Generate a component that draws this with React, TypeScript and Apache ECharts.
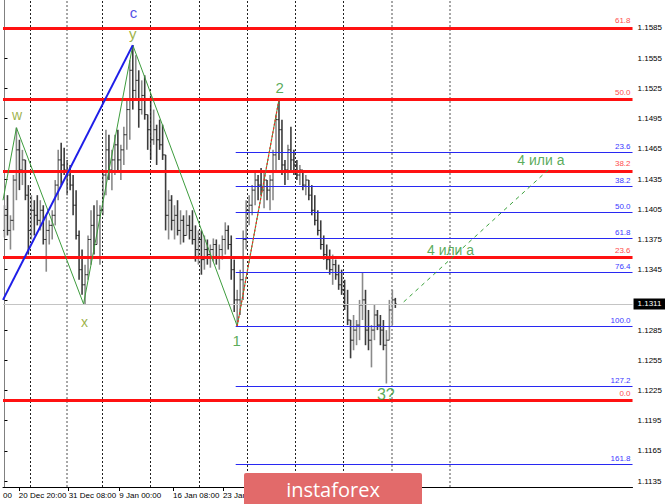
import React, { useEffect, useRef } from "react";
import * as echarts from "echarts";

// OHLC bars (EUR/USD, H4)
const barOpen = [1.1384,1.1399,1.1384,1.1394,1.1434,1.1464,1.1444,1.1454,1.1419,1.1384,1.1404,1.1399,1.1394,1.1404,1.1375,1.1384,1.1389,1.1399,1.1429,1.1454,1.1449,1.1444,1.1439,1.1429,1.1409,1.1379,1.1345,1.1330,1.1340,1.1375,1.1389,1.1370,1.1399,1.1404,1.1439,1.1464,1.1444,1.1454,1.1469,1.1454,1.1464,1.1479,1.1504,1.1543,1.1523,1.1533,1.1504,1.1518,1.1499,1.1484,1.1474,1.1484,1.1474,1.1469,1.1459,1.1399,1.1414,1.1394,1.1399,1.1384,1.1394,1.1379,1.1389,1.1384,1.1375,1.1365,1.1375,1.1355,1.1365,1.1360,1.1365,1.1370,1.1357,1.1365,1.1375,1.1384,1.1370,1.1345,1.1315,1.1315,1.1335,1.1375,1.1404,1.1409,1.1424,1.1434,1.1429,1.1424,1.1434,1.1424,1.1434,1.1459,1.1494,1.1484,1.1449,1.1444,1.1464,1.1454,1.1449,1.1439,1.1444,1.1429,1.1434,1.1419,1.1404,1.1394,1.1384,1.1370,1.1360,1.1355,1.1345,1.1350,1.1340,1.1330,1.1325,1.1310,1.1295,1.1275,1.1285,1.1290,1.1310,1.1315,1.1285,1.1275,1.1285,1.1300,1.1290,1.1285,1.1270,1.1275,1.1305,1.1315];
const barHigh = [1.1409,1.1419,1.1399,1.1439,1.1486,1.1474,1.1464,1.1454,1.1429,1.1419,1.1414,1.1419,1.1414,1.1409,1.1399,1.1394,1.1404,1.1434,1.1464,1.1471,1.1466,1.1454,1.1449,1.1439,1.1424,1.1384,1.1365,1.1350,1.1379,1.1404,1.1409,1.1414,1.1409,1.1444,1.1484,1.1479,1.1464,1.1479,1.1484,1.1469,1.1487,1.1514,1.1553,1.1568,1.1558,1.1543,1.1533,1.1538,1.1499,1.1518,1.1504,1.1489,1.1494,1.1489,1.1459,1.1424,1.1419,1.1409,1.1414,1.1404,1.1399,1.1404,1.1399,1.1404,1.1389,1.1384,1.1384,1.1379,1.1375,1.1370,1.1376,1.1375,1.1370,1.1379,1.1392,1.1389,1.1379,1.1355,1.1325,1.1345,1.1384,1.1414,1.1419,1.1429,1.1444,1.1439,1.1446,1.1442,1.1434,1.1439,1.1464,1.1499,1.1514,1.1494,1.1454,1.1469,1.1487,1.1464,1.1454,1.1449,1.1444,1.1439,1.1434,1.1429,1.1419,1.1404,1.1394,1.1379,1.1370,1.1365,1.1360,1.1355,1.1350,1.1345,1.1335,1.1325,1.1295,1.1300,1.1295,1.1315,1.1342,1.1325,1.1305,1.1290,1.1310,1.1305,1.1300,1.1295,1.1285,1.1315,1.1325,1.1317];
const barLow = [1.1377,1.1379,1.1365,1.1384,1.1414,1.1424,1.1429,1.1414,1.1360,1.1375,1.1379,1.1389,1.1384,1.1370,1.1343,1.1370,1.1375,1.1389,1.1414,1.1429,1.1439,1.1419,1.1424,1.1399,1.1375,1.1335,1.1320,1.1311,1.1335,1.1350,1.1360,1.1370,1.1350,1.1399,1.1419,1.1434,1.1424,1.1439,1.1444,1.1434,1.1449,1.1464,1.1474,1.1504,1.1514,1.1486,1.1499,1.1494,1.1464,1.1454,1.1469,1.1449,1.1464,1.1454,1.1384,1.1375,1.1384,1.1375,1.1379,1.1370,1.1372,1.1379,1.1375,1.1370,1.1353,1.1350,1.1340,1.1345,1.1350,1.1347,1.1353,1.1350,1.1345,1.1355,1.1360,1.1365,1.1335,1.1303,1.1289,1.1300,1.1315,1.1365,1.1389,1.1399,1.1409,1.1414,1.1419,1.1406,1.1414,1.1404,1.1414,1.1444,1.1454,1.1439,1.1429,1.1434,1.1444,1.1439,1.1434,1.1429,1.1424,1.1419,1.1414,1.1399,1.1389,1.1379,1.1365,1.1355,1.1345,1.1340,1.1330,1.1335,1.1325,1.1320,1.1305,1.1290,1.1257,1.1265,1.1270,1.1275,1.1295,1.1270,1.1265,1.1248,1.1275,1.1285,1.1270,1.1265,1.1232,1.1275,1.1290,1.1307];
const barClose = [1.1399,1.1384,1.1394,1.1434,1.1464,1.1444,1.1454,1.1419,1.1384,1.1404,1.1399,1.1394,1.1404,1.1375,1.1384,1.1389,1.1399,1.1429,1.1454,1.1449,1.1444,1.1439,1.1429,1.1409,1.1379,1.1345,1.1330,1.1340,1.1375,1.1389,1.1370,1.1399,1.1404,1.1439,1.1464,1.1444,1.1454,1.1469,1.1454,1.1464,1.1479,1.1504,1.1543,1.1523,1.1533,1.1504,1.1518,1.1499,1.1484,1.1474,1.1484,1.1474,1.1469,1.1459,1.1399,1.1414,1.1394,1.1399,1.1384,1.1394,1.1379,1.1389,1.1384,1.1375,1.1365,1.1375,1.1355,1.1365,1.1360,1.1365,1.1370,1.1357,1.1365,1.1375,1.1384,1.1370,1.1345,1.1315,1.1315,1.1335,1.1375,1.1404,1.1409,1.1424,1.1434,1.1429,1.1424,1.1434,1.1424,1.1434,1.1459,1.1494,1.1484,1.1449,1.1444,1.1464,1.1454,1.1449,1.1439,1.1444,1.1429,1.1434,1.1419,1.1404,1.1394,1.1384,1.1370,1.1360,1.1355,1.1345,1.1350,1.1340,1.1330,1.1325,1.1310,1.1295,1.1275,1.1285,1.1290,1.1310,1.1315,1.1285,1.1275,1.1285,1.1300,1.1290,1.1285,1.1270,1.1275,1.1305,1.1315,1.1311];

const priceTicks = [1.1135,1.1165,1.1195,1.1225,1.1255,1.1285,1.1315,1.1345,1.1375,1.1405,1.1435,1.1465,1.1495,1.1525,1.1555,1.1585];
const priceLabels = [1.1135,1.1165,1.1195,1.1225,1.1255,1.1285,1.1345,1.1375,1.1405,1.1435,1.1465,1.1495,1.1525,1.1555,1.1585];
const timeTickIdx = [-0.5, 4.8, 21.5, 38.5, 56.5, 73.2];
const timeTickText = ["00", "20 Dec 20:00", "31 Dec 08:00", "9 Jan 00:00", "16 Jan 08:00", "23 Jan 16:00"];

const redFibLevels = [1.1585, 1.1514, 1.1443, 1.1357, 1.1215];
const redFibNames = ["61.8", "50.0", "38.2", "23.6", "0.0"];
const blueFibLevels = [1.14614, 1.14276, 1.14018, 1.1376, 1.13422, 1.12886, 1.1229, 1.11515];
const blueFibNames = ["23.6", "38.2", "50.0", "61.8", "76.4", "100.0", "127.2", "161.8"];
const blueFibStart = 77.5;

const separatorIdx = [8.5, 20.8, 32.8, 49, 65.2, 81.5, 97.5, 113.7, 129.8, 149.2];
const separatorDark = [true, false, true, true, true, true, true, true, false, false];

const waveGreenPath = [[-0.5, 1.1414], [4, 1.1486], [26.5, 1.1311], [43, 1.1568], [78, 1.1289], [92, 1.1514]];
const waveBluePath = [[-0.5, 1.1315], [43, 1.1568]];
const fibTrendPath = [[78, 1.1289], [92, 1.1514]];
const projectionPath = [[133.8, 1.1313], [182.2, 1.1444]];
const currentPrice = 1.1311;

const waveLabelText = ["c", "y", "w", "x", "1", "2", "3?", "4 или а", "4 или а"];
const waveLabelPos = [[43.2, 1.1600], [43.0, 1.1580], [4.2, 1.1499], [26.8, 1.1293], [77.8, 1.1275], [92.2, 1.1526], [127.8, 1.1221], [149.5, 1.1365], [179.8, 1.1454]];
const waveLabelColor = ["#2424e0", "#86a016", "#86a016", "#86a016", "#2f952f", "#2f952f", "#2f952f", "#2f952f", "#2f952f"];
const waveLabelSize = [15, 15, 14, 14, 15, 15, 16, 14, 14];

const FONT = "'Liberation Sans', Arial, sans-serif";
const BLUE = "#2828f2";

export default function App() {
  const ref = useRef<HTMLDivElement>(null);
  useEffect(() => {
    if (!ref.current) return;
    const chart = echarts.init(ref.current, null, { renderer: "svg" });
    const bars = barHigh.map((h, i) => [i, barOpen[i], h, barLow[i], barClose[i]]);

    const sepLines: any[] = separatorIdx.map((v, k) => ({
      xAxis: v,
      lineStyle: separatorDark[k]
        ? { color: "#222", width: 1, type: [2, 2] }
        : { color: "#8a8a8a", width: 1.5, type: [2, 2] },
      label: { show: false },
    }));

    const redLines = redFibLevels.map((p, k) => ({
      yAxis: p,
      lineStyle: { color: "#ff1111", width: 3, type: "solid", opacity: 1 },
      label: {
        show: true,
        position: "insideEndTop",
        formatter: redFibNames[k],
        color: "#ff4d4d",
        fontSize: 8,
        fontFamily: FONT,
        distance: [2, 3],
      },
    }));

    const blueLines = blueFibLevels.map((p, k) => [
      {
        coord: [blueFibStart, p],
        lineStyle: { color: BLUE, width: 1, type: "solid", opacity: 1 },
        label: {
          show: true,
          position: "insideEndTop",
          formatter: blueFibNames[k],
          color: "#3a3aff",
          fontSize: 8,
          fontFamily: FONT,
          distance: [2, 2],
        },
      },
      { coord: [210.5, p], lineStyle: { color: BLUE, width: 1, type: "solid", opacity: 1 } },
    ]);

    chart.setOption({
      animation: false,
      backgroundColor: "#ffffff",
      grid: { left: 0, right: 32, top: 0, bottom: 17, containLabel: false },
      xAxis: {
        type: "value",
        min: -0.5,
        max: 210.5,
        splitLine: { show: false },
        axisLine: { show: true, lineStyle: { color: "#000", width: 1 } },
        axisTick: { show: true, length: 4, customValues: timeTickIdx.slice(1), lineStyle: { color: "#000" } },
        axisLabel: {
          show: true,
          customValues: timeTickIdx,
          formatter: (v: number) => {
            let best = 0;
            timeTickIdx.forEach((t, k) => {
              if (Math.abs(t - v) < Math.abs(timeTickIdx[best] - v)) best = k;
            });
            return timeTickText[best];
          },
          align: "left",
          color: "#000",
          fontSize: 8,
          fontFamily: FONT,
          margin: 4,
        },
      },
      yAxis: {
        type: "value",
        position: "right",
        min: 1.11292,
        max: 1.16128,
        splitLine: { show: false },
        axisLine: { show: true, lineStyle: { color: "#808080", width: 1 } },
        axisTick: { show: true, length: 3, customValues: priceTicks, lineStyle: { color: "#000" } },
        axisLabel: {
          show: true,
          customValues: priceLabels,
          formatter: (v: number) => v.toFixed(4),
          color: "#000",
          fontSize: 8,
          fontFamily: FONT,
          margin: 5,
        },
      },
      series: [
        {
          type: "custom",
          name: "EURUSD",
          z: 2,
          data: bars,
          encode: { x: 0, y: [1, 2, 3, 4] },
          renderItem: (params: any, api: any) => {
            const i = api.value(0);
            const o = api.value(1);
            const c = api.value(4);
            const ph = api.coord([i, api.value(2)]);
            const pl = api.coord([i, api.value(3)]);
            const po = api.coord([i, o]);
            const pc = api.coord([i, c]);
            const col = c < o ? "#3c3c3c" : "#8a8a8a";
            return {
              type: "group",
              children: [
                { type: "line", shape: { x1: ph[0], y1: ph[1], x2: pl[0], y2: pl[1] }, style: { stroke: col, lineWidth: 1.6 } },
                { type: "line", shape: { x1: po[0] - 1.5, y1: po[1], x2: po[0], y2: po[1] }, style: { stroke: "#2a2a2a", lineWidth: 1 } },
                { type: "line", shape: { x1: pc[0], y1: pc[1], x2: pc[0] + 1.5, y2: pc[1] }, style: { stroke: "#2a2a2a", lineWidth: 1 } },
              ],
            };
          },
          markLine: {
            silent: true,
            symbol: ["none", "none"],
            precision: 5,
            data: sepLines,
          },
        },
        {
          type: "line",
          name: "fib",
          data: [],
          z: 4,
          markLine: {
            silent: true,
            symbol: ["none", "none"],
            precision: 5,
            lineStyle: { color: BLUE, width: 1, type: "solid", opacity: 1 },
            data: [
              {
                yAxis: currentPrice,
                lineStyle: { color: "#c4c4c4", width: 1, type: "solid" },
                label: {
                  show: true,
                  position: "end",
                  formatter: currentPrice.toFixed(4),
                  color: "#fff",
                  backgroundColor: "#000",
                  padding: [2, 4, 1, 4],
                  fontSize: 8,
                  fontFamily: FONT,
                  distance: 1,
                },
              },
              ...blueLines,
              ...redLines,
            ],
          },
        },
        {
          type: "line",
          name: "waves",
          data: waveGreenPath,
          symbol: "none",
          z: 5,
          lineStyle: { color: "#3d9c3d", width: 1 },
        },
        {
          type: "line",
          name: "fibTrend",
          data: fibTrendPath,
          symbol: "none",
          z: 5,
          lineStyle: { color: "#ff2020", width: 1.2, type: [2, 2] },
        },
        {
          type: "line",
          name: "waveC",
          data: waveBluePath,
          symbol: "none",
          z: 5,
          lineStyle: { color: "#1e1ee8", width: 2 },
        },
        {
          type: "line",
          name: "projection",
          data: projectionPath,
          symbol: "none",
          z: 5,
          lineStyle: { color: "#3aa03a", width: 1, type: [4, 4] },
        },
        {
          type: "scatter",
          name: "labels",
          z: 6,
          symbolSize: 1,
          itemStyle: { color: "rgba(0,0,0,0)" },
          data: waveLabelPos.map((p, k) => ({
            value: p,
            label: {
              show: true,
              position: "inside",
              formatter: waveLabelText[k],
              color: waveLabelColor[k],
              fontSize: waveLabelSize[k],
              fontFamily: FONT,
            },
          })),
        },
      ],
      graphic: [
        {
          type: "rect",
          z: 100,
          shape: { x: 244, y: 473, width: 178, height: 40, r: 2 },
          style: { fill: "#e26a6a" },
        },
        {
          type: "text",
          z: 101,
          x: 333,
          y: 489,
          style: {
            text: "instaforex",
            fill: "#ffffff",
            fontSize: 20,
            fontFamily: "'Open Sans', 'Noto Sans', sans-serif",
            align: "center",
            verticalAlign: "middle",
          },
        },
      ],
    });
    return () => chart.dispose();
  }, []);
  return (
    <div
      ref={ref}
      style={{ position: "fixed", left: 0, top: 0, width: 665, height: 504, background: "#fff" }}
    />
  );
}
